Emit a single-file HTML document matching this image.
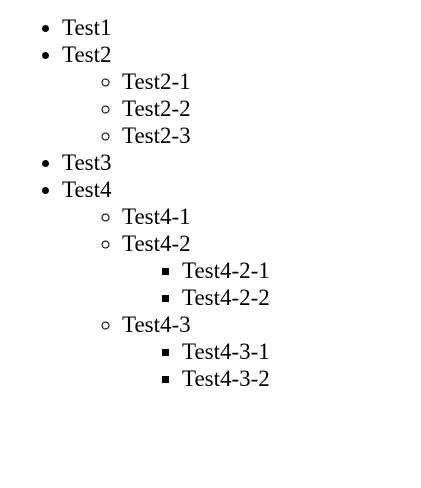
<!DOCTYPE html>
<html><head><meta charset="utf-8"><style>
html,body{margin:0;padding:0;background:#fff;width:421px;height:488px;overflow:hidden}
body{font-family:"Liberation Serif",serif;font-size:23px;line-height:27px;color:#000}
ul{margin:0;padding-left:60px}
body>ul{margin-top:14px;padding-left:62px;list-style:disc}
ul ul{list-style:circle}
ul ul ul{list-style:square}
</style></head><body>
<ul>
<li>Test1</li>
<li>Test2
<ul><li>Test2-1</li><li>Test2-2</li><li>Test2-3</li></ul></li>
<li>Test3</li>
<li>Test4
<ul><li>Test4-1</li>
<li>Test4-2<ul><li>Test4-2-1</li><li>Test4-2-2</li></ul></li>
<li>Test4-3<ul><li>Test4-3-1</li><li>Test4-3-2</li></ul></li>
</ul></li>
</ul>
</body></html>
